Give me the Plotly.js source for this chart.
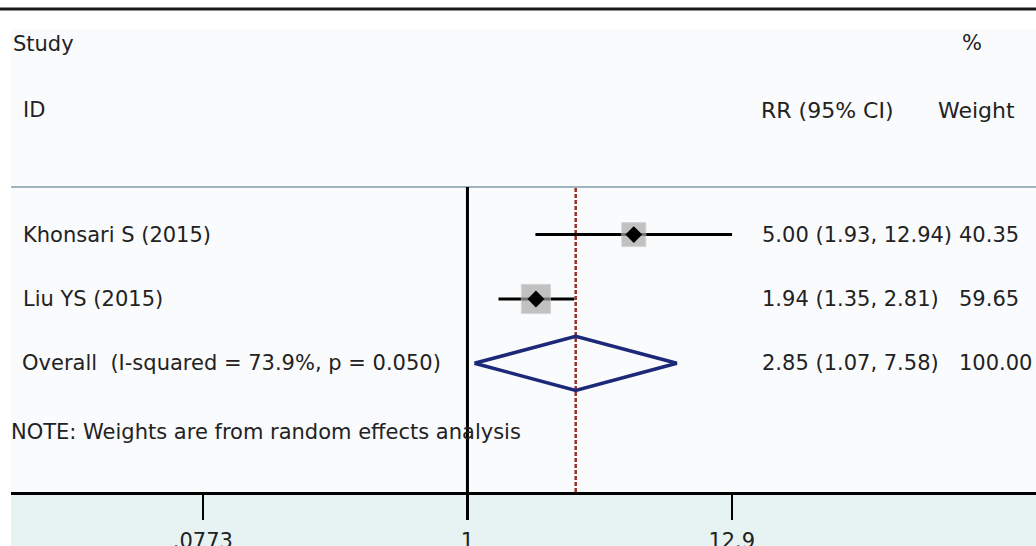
<!DOCTYPE html>
<html>
<head>
<meta charset="utf-8">
<script src="https://cdn.plot.ly/plotly-3.0.1.min.js"></script>
<style>html,body{margin:0;padding:0;background:#fff;}#chart{width:1036px;height:546px;}</style>
</head>
<body>
<div id="chart"></div>
<script>
// ---- data ----
var studies = ["Khonsari S (2015)", "Liu YS (2015)"];
var rr = [5.00, 1.94];
var lcl = [1.93, 1.35];
var ucl = [12.94, 2.81];
var weights = [40.35, 59.65];
var rrText = ["5.00 (1.93, 12.94)", "1.94 (1.35, 2.81)"];
var weightText = ["40.35", "59.65"];
var overallLabel = "Overall&nbsp; (I-squared = 73.9%, p = 0.050)";
var overallRR = 2.85, overallL = 1.07, overallU = 7.58;
var overallText = "2.85 (1.07, 7.58)";
var overallWeight = "100.00";
var tickVals = [0.0773, 1, 12.9];
var tickText = [".0773", "1", "12.9"];
var noteText = "NOTE: Weights are from random effects analysis";

// ---- geometry helpers (pixel -> paper) ----
var W = 1036, H = 546, ML = 11, MT = 187, MB = 54;
var PW = W - ML, PH = H - MT - MB;
function px(x) { return (x - ML) / PW; }
function py(y) { return (H - MB - y) / PH; }

var font = {family: "DejaVu Sans", size: 21, color: "#222"};
var rows = studies.map(function (s, i) { return i + 1; });
var overallRow = studies.length + 1;

// CI lines
var ciX = [], ciY = [];
for (var i = 0; i < studies.length; i++) {
  ciX.push(lcl[i], ucl[i], null);
  ciY.push(rows[i], rows[i], null);
}

var traces = [
  {x: ciX, y: ciY, mode: "lines", line: {color: "#000", width: 3}, hoverinfo: "skip", showlegend: false},
  {x: rr, y: rows, mode: "markers", showlegend: false,
   marker: {symbol: "square", color: "#a9a9a9", size: weights.map(function (w) { return 3.78 * Math.sqrt(w); }),
            line: {color: "#c4c4c4", width: 1}}},
  {x: rr, y: rows, mode: "markers", showlegend: false,
   marker: {symbol: "diamond", color: "#000", size: 13}},
  {x: [overallL, overallRR, overallU, overallRR, overallL],
   y: [overallRow, overallRow - 0.42, overallRow, overallRow + 0.42, overallRow],
   mode: "lines", line: {color: "#1c2878", width: 3.5}, showlegend: false, hoverinfo: "skip"}
];

var annotations = [];
function addText(text, xPix, yVal, yref, size) {
  var f = {family: font.family, size: size || font.size, color: font.color};
  annotations.push({text: text, x: px(xPix - 2), y: yVal, xref: "paper", yref: yref || "paper",
    xanchor: "left", yanchor: "middle", showarrow: false, font: f});
}
addText("Study", 13, py(44));
addText("ID", 23, py(110));
addText("%", 962, py(43));
addText("RR (95% CI)", 761, py(110), "paper", 22);
addText("Weight", 938, py(110), "paper", 22);
for (var j = 0; j < studies.length; j++) {
  addText(studies[j], 23, rows[j], "y");
  addText(rrText[j], 762, rows[j], "y");
  addText(weightText[j], 959, rows[j], "y");
}
addText(overallLabel, 22, overallRow, "y");
addText(overallText, 762, overallRow, "y");
addText(overallWeight, 959, overallRow, "y");
addText(noteText, 11, py(432));

var shapes = [
  // panel background
  {type: "rect", xref: "paper", yref: "paper", x0: 0, x1: 1, y0: 0, y1: py(29), fillcolor: "#fafbfd", line: {width: 0}, layer: "below"},
  // axis strip background
  {type: "rect", xref: "paper", yref: "paper", x0: 0, x1: 1, y0: py(546), y1: 0, fillcolor: "#e7f2f3", line: {width: 0}, layer: "below"},
  // top border line
  {type: "line", xref: "paper", yref: "paper", x0: px(0), x1: 1, y0: py(9), y1: py(9), line: {color: "#1a1a1a", width: 3}},
  // header separator
  {type: "line", xref: "paper", yref: "paper", x0: 0, x1: 1, y0: 1, y1: 1, line: {color: "#a3b3bd", width: 2}},
  // null line at 1
  {type: "line", xref: "x", yref: "paper", x0: 1, x1: 1, y0: 0, y1: 1, line: {color: "#000", width: 3}},
  // overall effect dashed line
  {type: "line", xref: "x", yref: "paper", x0: overallRR, x1: overallRR, y0: 0, y1: 1, line: {color: "#9c2e22", width: 2.5, dash: "4px,2px"}, layer: "below"}
];

var layout = {
  width: W, height: H,
  margin: {l: ML, r: 0, t: MT, b: MB, pad: 0},
  paper_bgcolor: "#ffffff",
  plot_bgcolor: "rgba(0,0,0,0)",
  showlegend: false,
  xaxis: {type: "log", range: [-1.918, 2.389], tickvals: tickVals, ticktext: tickText,
          ticks: "outside", ticklen: 25, tickwidth: 2.5, tickcolor: "#000",
          showline: true, linecolor: "#000", linewidth: 2.5, showgrid: false, zeroline: false,
          tickfont: font, ticklabelstandoff: 3, fixedrange: true},
  yaxis: {range: [5.0, 0.26], showline: false, showgrid: false, zeroline: false,
          showticklabels: false, ticks: "", fixedrange: true},
  shapes: shapes,
  annotations: annotations
};

Plotly.newPlot("chart", traces, layout, {displayModeBar: false, staticPlot: true});
</script>
</body>
</html>
